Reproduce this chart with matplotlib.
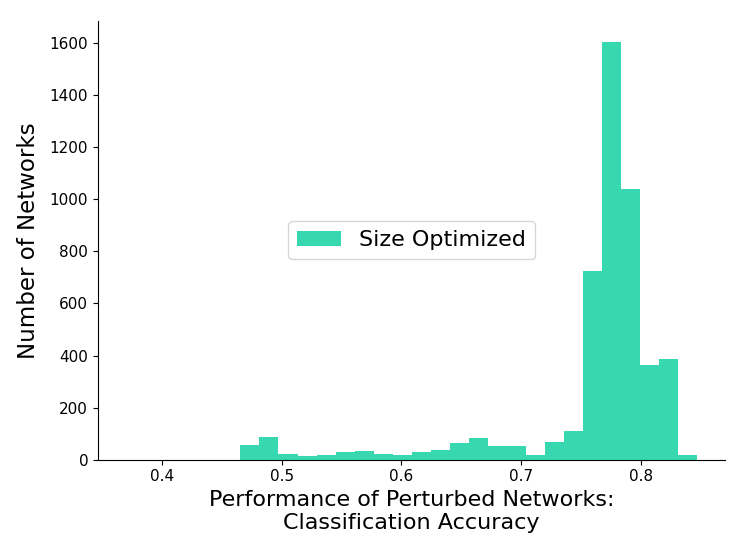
import numpy as np
import matplotlib
matplotlib.use("Agg")
import matplotlib.pyplot as plt

# histogram: 30 equal bins between these limits, counts
bin_lo, bin_hi = 0.370, 0.847
counts = [0, 0, 0, 0, 0, 0,
          55, 88, 23, 15, 20, 29, 34, 23, 17, 30, 37, 66,
          82, 52, 53, 18, 70, 111, 724, 1605, 1040, 365, 385, 20]
label = "Size Optimized"
COLOR = "#37d8b0"

edges = np.linspace(bin_lo, bin_hi, len(counts) + 1)
centers = (edges[:-1] + edges[1:]) / 2

fig = plt.figure(figsize=(7.47, 5.6), dpi=100)
ax = fig.add_axes([0.131, 0.179, 0.84, 0.784])
ax.hist(centers, bins=edges, weights=counts, color=COLOR, label=label)

ax.spines["top"].set_visible(False)
ax.spines["right"].set_visible(False)
ax.tick_params(labelsize=11)
ax.set_xlabel("Performance of Perturbed Networks:\nClassification Accuracy", fontsize=16)
ax.set_ylabel("Number of Networks", fontsize=16.5, labelpad=7)
ax.legend(loc="center", fontsize=16)

fig.savefig("out.png", dpi=100)
